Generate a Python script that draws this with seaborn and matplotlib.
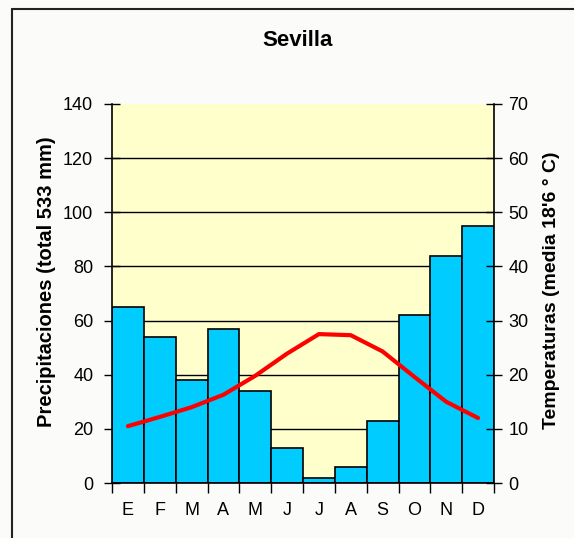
import numpy as np
import pandas as pd
import matplotlib
matplotlib.use("Agg")
import matplotlib.pyplot as plt
from matplotlib.lines import Line2D
from matplotlib.ticker import FixedLocator
import seaborn as sns

sns.set_style('ticks')
plt.rcParams['font.family'] = ['Liberation Sans', 'DejaVu Sans']
plt.rcParams['text.color'] = 'black'
plt.rcParams['axes.labelcolor'] = 'black'
plt.rcParams['xtick.color'] = 'black'
plt.rcParams['ytick.color'] = 'black'

# climate data for Sevilla
months = ['Ene', 'Feb', 'Mar', 'Abr', 'May', 'Jun', 'Jul', 'Ago', 'Sep', 'Oct', 'Nov', 'Dic']
month_labels = ['E', 'F', 'M', 'A', 'M', 'J', 'J', 'A', 'S', 'O', 'N', 'D']
precip = [65, 54, 38, 57, 34, 13, 2, 6, 23, 62, 84, 95]
temp = [10.5, 12.2, 14.0, 16.3, 19.8, 23.9, 27.5, 27.3, 24.3, 19.6, 15.0, 12.0]

df = pd.DataFrame({"mes": months, "precip": precip, "temp": temp})

W, H = 574, 538
fig = plt.figure(figsize=(W / 100, H / 100), dpi=100)
fig.patch.set_facecolor('#fbfcfa')
ax = fig.add_axes([112 / W, 1 - 483 / H, (494 - 112) / W, (483 - 104) / H])
ax.set_facecolor('#ffffcc')

sns.barplot(data=df, x="mes", y="precip", order=months, color='#00ccff',
            saturation=1, width=1, edgecolor='black', linewidth=1.2, ax=ax)
ax.set_ylim(0, 140)
ax.set_xlim(-0.5, 11.5)
ax.set_yticks(range(0, 141, 20))
ax.set_axisbelow(True)
ax.yaxis.grid(True, color='black', lw=1)
ax.get_ygridlines()[-1].set_visible(False)
ax.set_xticks(range(12))
ax.set_xticklabels(month_labels)
ax.xaxis.set_minor_locator(FixedLocator(np.arange(-0.5, 12, 1)))
ax.tick_params(axis='x', which='major', length=0, pad=14, labelsize=13)
ax.tick_params(axis='x', which='minor', length=7, width=1, direction='out')
ax.tick_params(axis='y', length=11, width=1, direction='inout', labelsize=13, pad=8)
ax.set_xlabel('')
ax.set_ylabel('Precipitaciones (total 533 mm)', fontsize=14.5, fontweight='bold')
ax.yaxis.set_label_coords(-0.147, 0.53)
for s in ['left', 'bottom']:
    ax.spines[s].set_linewidth(1.2)
    ax.spines[s].set_color('black')
ax.spines['top'].set_visible(False)
ax.spines['right'].set_visible(False)

ax2 = ax.twinx()
sns.lineplot(x=np.arange(12), y=temp, color='#ff0000', lw=3, ax=ax2)
ax2.set_ylim(0, 70)
ax2.set_yticks(range(0, 71, 10))
ax2.tick_params(axis='y', length=11, width=1, direction='inout', labelsize=13, pad=5)
ax2.set_ylabel('Temperaturas (media 18\'6 ° C)', fontsize=14, fontweight='bold')
ax2.yaxis.set_label_coords(1.128, 0.509)
ax2.spines['top'].set_visible(False)
ax2.spines['left'].set_visible(False)
ax2.spines['bottom'].set_visible(False)
ax2.spines['right'].set_linewidth(1.2)
ax2.spines['right'].set_color('black')

fig.text(298 / W, 1 - 41 / H, 'Sevilla', ha='center', va='center', fontsize=16, fontweight='bold')

# outer frame (cut at right and bottom)
fig.add_artist(Line2D([12 / W, 12 / W], [0, 1 - 9 / H], transform=fig.transFigure, color='#222222', lw=1.5))
fig.add_artist(Line2D([12 / W, 1], [1 - 9 / H, 1 - 9 / H], transform=fig.transFigure, color='#222222', lw=1.5))

fig.savefig('out.png', dpi=100, facecolor=fig.get_facecolor())
